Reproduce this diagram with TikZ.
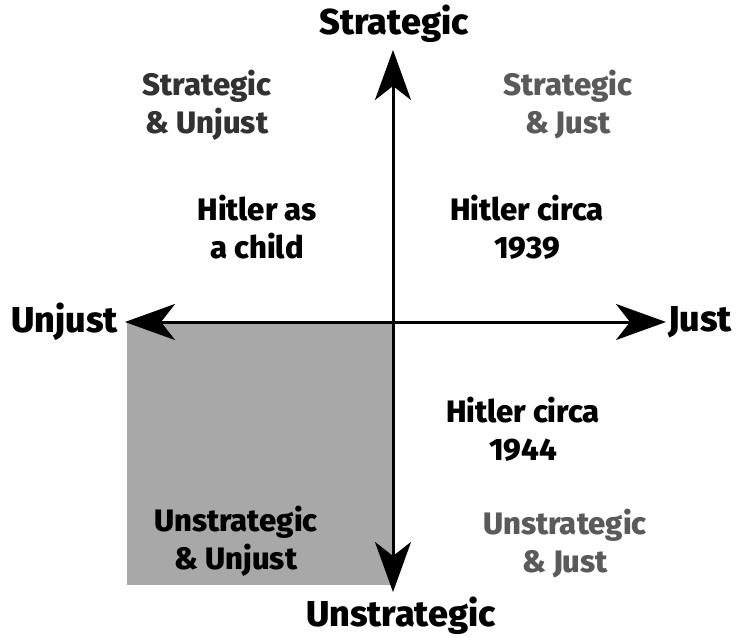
\documentclass[tikz,border=0pt]{standalone}
\usepackage{fontspec}
\setmainfont{Fira Sans}[BoldFont={Fira Sans ExtraBold}]
\usetikzlibrary{arrows.meta}
\definecolor{quadgray}{RGB}{168,168,168}
\definecolor{darklbl}{RGB}{50,50,50}
\definecolor{midlbl}{RGB}{90,90,90}
\tikzset{
  axis/.style={line width=3pt, -{Stealth[length=50pt, width=36pt, inset=14pt]}},
  axislabel/.style={font=\fontsize{36}{38}\selectfont\bfseries, inner sep=0pt},
  quadlabel/.style={font=\fontsize{31}{38}\selectfont\bfseries, align=center, inner sep=0pt},
}
\begin{document}
\begin{tikzpicture}[x=1pt, y=-1pt]
  \useasboundingbox (0,0) rectangle (742,637);
  % filled unstrategic & unjust quadrant
  \fill[quadgray] (127,322) rectangle (393,585);
  \coordinate (o) at (393,322);
  \coordinate (top) at (393,50);
  \coordinate (bottom) at (393,592);
  \coordinate (left) at (125,322);
  \coordinate (right) at (666,322);
  \draw[axis] (o) -- (top);
  \draw[axis] (o) -- (bottom);
  \draw[axis] (o) -- (left);
  \draw[axis] (o) -- (right);
  % axis names
  \node[axislabel] (ns) at (394,24) {Strategic};
  \node[axislabel] (nu) at (401,616) {Unstrategic};
  \node[axislabel, anchor=east] (nl) at (118,322) {Unjust};
  \node[axislabel, anchor=west] (nr) at (668,322) {Just};
  % quadrant names
  \node[quadlabel, text=darklbl] (q1) at (207,105) {Strategic\\\& Unjust};
  \node[quadlabel, text=midlbl] (q2) at (568,105) {Strategic\\\& Just};
  \node[quadlabel] (q3) at (236,541) {Unstrategic\\\& Unjust};
  \node[quadlabel, text=midlbl] (q4) at (565,544) {Unstrategic\\\& Just};
  % placements
  \node[quadlabel] (h1) at (257,227) {Hitler as\\a child};
  \node[quadlabel] (h2) at (527,227) {Hitler circa\\1939};
  \node[quadlabel] (h3) at (523,429) {Hitler circa\\1944};
\end{tikzpicture}
\end{document}
